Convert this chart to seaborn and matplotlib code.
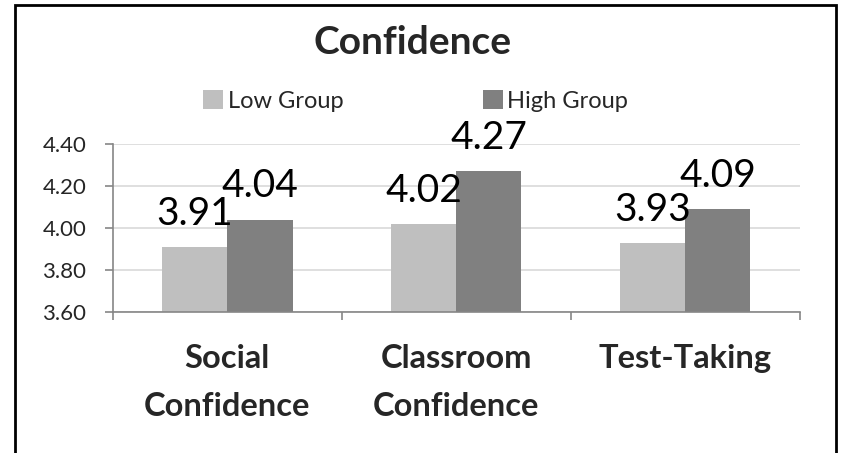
import pandas as pd
import matplotlib.pyplot as plt
import seaborn as sns
from matplotlib.patches import Rectangle

# -------------------------------------------------
# Data
# -------------------------------------------------
categories = ["Social\nConfidence", "Classroom\nConfidence", "Test-Taking"]
groups = ["Low Group", "High Group"]
low_values = [3.91, 4.02, 3.93]
high_values = [4.04, 4.27, 4.09]
y_ticks = [3.60, 3.80, 4.00, 4.20, 4.40]

df = pd.DataFrame({
    "category": categories * 2,
    "group": [groups[0]] * 3 + [groups[1]] * 3,
    "score": low_values + high_values,
})

# -------------------------------------------------
# Plot Settings
# -------------------------------------------------
sns.set_theme(style="white")
plt.rcParams["font.family"] = ["Lato", "DejaVu Sans"]

fig = plt.figure(figsize=(8.48, 4.53), dpi=100)
ax = fig.add_axes([0.133, 0.311, 0.810, 0.371])

sns.barplot(
    data=df, x="category", y="score", hue="group",
    order=categories, hue_order=groups,
    palette=["#BFBFBF", "#808080"],
    width=0.57, linewidth=0, saturation=1,
    ax=ax, legend=True,
)

for c in ax.containers:
    ax.bar_label(c, fmt="%.2f", fontsize=28, padding=11, color="black")

ax.set_ylim(3.6, 4.4)
ax.set_xlim(-0.5, 2.5)
ax.set_yticks(y_ticks)
ax.set_yticklabels([f"{v:.2f}" for v in y_ticks], fontsize=16)
ax.yaxis.grid(True, color="#D9D9D9", linewidth=1.2)
ax.set_axisbelow(True)
ax.set_xlabel("")
ax.set_ylabel("")

for s in ["top", "right"]:
    ax.spines[s].set_visible(False)
for s in ["left", "bottom"]:
    ax.spines[s].set_color("#868686")
    ax.spines[s].set_linewidth(1.2)

ax.tick_params(axis="y", length=6, width=1.2, color="#868686", pad=13, left=True)
ax.set_xticks([-0.5, 0.5, 1.5, 2.5], minor=True)
ax.tick_params(axis="x", which="minor", length=6, width=1.2, color="#868686", bottom=True)
ax.tick_params(axis="x", which="major", length=0, pad=23)
for lab in ax.get_xticklabels():
    lab.set_fontsize(23.5)
    lab.set_fontweight("bold")
    lab.set_linespacing(1.8)

# legend at top
handles, labels = ax.get_legend_handles_labels()
ax.get_legend().remove()
fig.legend(
    handles, labels, loc="center", bbox_to_anchor=(0.49, 0.777),
    ncol=2, frameon=False, fontsize=17, handlelength=0.85,
    handleheight=0.85, handletextpad=0.2, columnspacing=5.9,
)

fig.suptitle("Confidence", fontsize=28, fontweight="bold", x=0.487, y=0.945)

# outer frame
fig.patches.append(Rectangle(
    (15 / 848, -0.05), (836 - 15) / 848, 1.05 - 5 / 453,
    transform=fig.transFigure, fill=False, edgecolor="black", linewidth=2,
))

plt.savefig("out.png", dpi=100)
